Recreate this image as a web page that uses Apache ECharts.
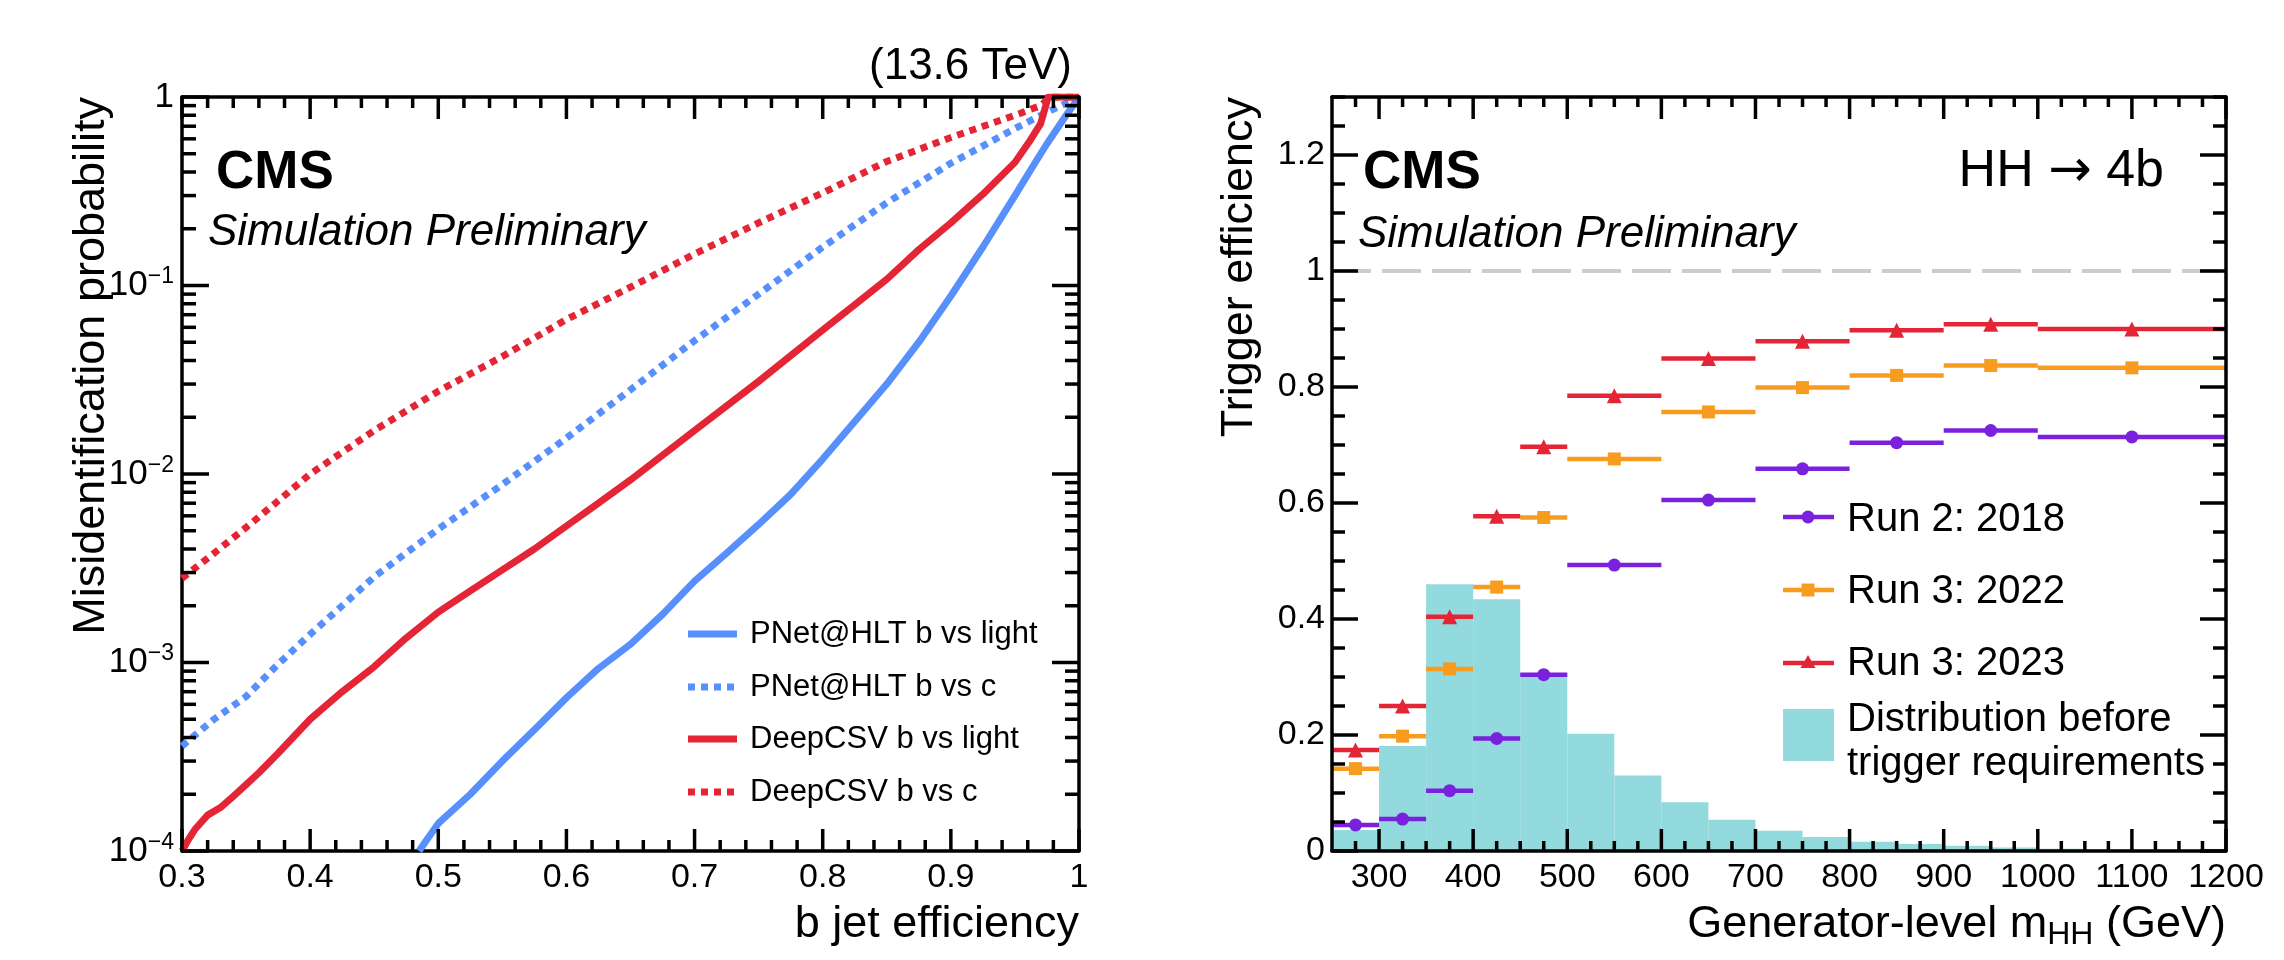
<!DOCTYPE html>
<html>
<head>
<meta charset="utf-8">
<script src="https://cdn.jsdelivr.net/npm/echarts@6.0.0/dist/echarts.min.js"></script>
<style>
  html, body { margin: 0; padding: 0; background: #ffffff; }
  #chart { width: 2284px; height: 960px; }
</style>
</head>
<body>
<div id="chart"></div>
<script>
// ---- left panel: ROC curves (b jet efficiency vs misidentification) ----
const pnetLightEff = [0.485, 0.49, 0.5, 0.525, 0.55, 0.575, 0.6, 0.625, 0.65, 0.675, 0.7, 0.725, 0.75, 0.775, 0.8, 0.825, 0.85, 0.875, 0.9, 0.925, 0.95, 0.965, 0.975, 0.99, 1.0];
const pnetLightMis = [1.0e-4, 1.12e-4, 1.4e-4, 2.0e-4, 3.0e-4, 4.4e-4, 6.5e-4, 9.3e-4, 1.25e-3, 1.8e-3, 2.7e-3, 3.8e-3, 5.4e-3, 7.8e-3, 1.2e-2, 1.9e-2, 3.0e-2, 5.0e-2, 8.8e-2, 0.16, 0.30, 0.44, 0.565, 0.80, 1.0];

const pnetCEff = [0.3, 0.325, 0.35, 0.375, 0.4, 0.425, 0.45, 0.5, 0.55, 0.6, 0.65, 0.7, 0.75, 0.8, 0.85, 0.9, 0.95, 0.975, 1.0];
const pnetCMis = [3.6e-4, 5.0e-4, 6.6e-4, 9.8e-4, 1.41e-3, 2.0e-3, 2.85e-3, 5.1e-3, 8.8e-3, 1.55e-2, 2.8e-2, 5.1e-2, 9.0e-2, 0.16, 0.275, 0.445, 0.68, 0.83, 1.0];

const deepLightEff = [0.3, 0.305, 0.31, 0.32, 0.33, 0.34, 0.35, 0.36, 0.375, 0.4, 0.425, 0.45, 0.475, 0.5, 0.525, 0.55, 0.575, 0.6, 0.625, 0.65, 0.7, 0.75, 0.8, 0.825, 0.85, 0.875, 0.9, 0.925, 0.95, 0.962, 0.97, 0.976, 1.0];
const deepLightMis = [1.0e-4, 1.15e-4, 1.3e-4, 1.55e-4, 1.7e-4, 1.95e-4, 2.25e-4, 2.6e-4, 3.3e-4, 5.0e-4, 7.0e-4, 9.5e-4, 1.35e-3, 1.85e-3, 2.4e-3, 3.1e-3, 4.0e-3, 5.3e-3, 7.0e-3, 9.3e-3, 1.7e-2, 3.1e-2, 5.8e-2, 7.9e-2, 0.108, 0.155, 0.215, 0.305, 0.45, 0.59, 0.72, 1.0, 1.0];

const deepCEff = [0.3, 0.325, 0.35, 0.375, 0.4, 0.45, 0.5, 0.55, 0.6, 0.65, 0.7, 0.75, 0.8, 0.85, 0.9, 0.95, 0.97, 0.978, 1.0];
const deepCMis = [2.8e-3, 3.8e-3, 5.2e-3, 7.2e-3, 1.0e-2, 1.7e-2, 2.75e-2, 4.2e-2, 6.6e-2, 9.8e-2, 0.147, 0.215, 0.31, 0.455, 0.61, 0.80, 0.90, 1.0, 1.0];

const rocNames = ['PNet@HLT b vs light', 'PNet@HLT b vs c', 'DeepCSV b vs light', 'DeepCSV b vs c'];

// ---- right panel: trigger efficiency vs generator-level mHH ----
const binLo = [250, 300, 350, 400, 450, 500, 600, 700, 800, 900, 1000];
const binHi = [300, 350, 400, 450, 500, 600, 700, 800, 900, 1000, 1200];
const eff2018 = [0.045, 0.055, 0.104, 0.194, 0.304, 0.493, 0.605, 0.659, 0.704, 0.725, 0.714];
const eff2022 = [0.142, 0.198, 0.314, 0.455, 0.575, 0.676, 0.757, 0.799, 0.820, 0.837, 0.833];
const eff2023 = [0.174, 0.250, 0.404, 0.577, 0.697, 0.785, 0.849, 0.879, 0.898, 0.908, 0.900];

const histEdges = [250, 300, 350, 400, 450, 500, 550, 600, 650, 700, 750, 800, 850, 900, 950, 1000, 1050, 1100, 1150, 1200];
const histVals = [0.036, 0.181, 0.460, 0.434, 0.307, 0.202, 0.130, 0.084, 0.054, 0.035, 0.024, 0.016, 0.012, 0.009, 0.006, 0.004, 0.003, 0.002, 0.0015];

const runNames = ['Run 2: 2018', 'Run 3: 2022', 'Run 3: 2023'];

// tick labels
const xTicksLeft = [0.3, 0.4, 0.5, 0.6, 0.7, 0.8, 0.9, 1.0];
const yTicksLeft = [1e-4, 1e-3, 1e-2, 1e-1, 1];
const xTicksRight = [300, 400, 500, 600, 700, 800, 900, 1000, 1100, 1200];
const yTicksRight = [0, 0.2, 0.4, 0.6, 0.8, 1.0, 1.2];

const BLUE = '#5790fc', RED = '#e42536', ORANGE = '#f89c20', PURPLE = '#7a21dd', CYAN = '#92dadd';
const FONT = '"Liberation Sans", Arial, Helvetica, sans-serif';

// ROOT-style inward ticks on all four sides: [value, length]
let leftXTicks = [], leftYTicks = [], rightXTicks = [], rightYTicks = [];
for (let i = 0; i <= 35; i++) leftXTicks.push([+(0.3 + i * 0.02).toFixed(2), i % 5 === 0 ? 22 : 11]);
yTicksLeft.forEach(v => leftYTicks.push([v, 27]));
for (let d = -4; d < 0; d++) for (let k = 2; k <= 9; k++) leftYTicks.push([k * Math.pow(10, d), 14]);
for (let v = 275; v <= 1200; v += 25) rightXTicks.push([v, v % 100 === 0 ? 22 : 10]);
for (let i = 0; i <= 26; i++) rightYTicks.push([+(i * 0.05).toFixed(2), i % 4 === 0 ? 26 : 13]);

const labelStyle = { color: '#000', fontSize: 34, fontFamily: FONT };

function frameLine() { return { show: true, onZero: false, lineStyle: { color: '#000', width: 3.5 } }; }
function noTick() { return { show: false }; }
function hiddenLabel() { return { show: false }; }

let chart = echarts.init(document.getElementById('chart'), null, { renderer: 'canvas' });

let xAxes = [
  { gridIndex: 0, type: 'value', min: 0.3, max: 1, position: 'bottom',
    axisLine: frameLine(), axisTick: noTick(),
    axisLabel: Object.assign({ show: true, margin: 10, customValues: xTicksLeft, formatter: v => String(+v.toFixed(1)) }, labelStyle),
    splitLine: { show: false } },
  { gridIndex: 0, type: 'value', min: 0.3, max: 1, position: 'top',
    axisLine: frameLine(), axisTick: noTick(), axisLabel: hiddenLabel(), splitLine: { show: false } },
  { gridIndex: 1, type: 'value', min: 250, max: 1200, position: 'bottom', z: 5,
    axisLine: frameLine(), axisTick: noTick(),
    axisLabel: Object.assign({ show: true, margin: 10, customValues: xTicksRight, formatter: v => String(v) }, labelStyle),
    splitLine: { show: false } },
  { gridIndex: 1, type: 'value', min: 250, max: 1200, position: 'top', z: 5,
    axisLine: frameLine(), axisTick: noTick(), axisLabel: hiddenLabel(), splitLine: { show: false } }
];

function logLabel(v) {
  if (v >= 0.999) return '{b|1}';
  const e = Math.round(Math.log10(v));
  return '{b|10}{s|\u2212' + (-e) + '}';
}

let yAxes = [
  { gridIndex: 0, type: 'log', logBase: 10, min: 1e-4, max: 1, position: 'left',
    axisLine: frameLine(), axisTick: noTick(),
    axisLabel: { show: true, margin: 8, formatter: logLabel, showMinLabel: true, showMaxLabel: true,
      rich: { b: { fontSize: 35, fontFamily: FONT, color: '#000', lineHeight: 40 },
              s: { fontSize: 23, fontFamily: FONT, color: '#000', verticalAlign: 'top', lineHeight: 22 } } },
    splitLine: { show: false } },
  { gridIndex: 0, type: 'log', logBase: 10, min: 1e-4, max: 1, position: 'right',
    axisLine: frameLine(), axisTick: noTick(), axisLabel: hiddenLabel(), splitLine: { show: false } },
  { gridIndex: 1, type: 'value', min: 0, max: 1.3, position: 'left', z: 5,
    axisLine: frameLine(), axisTick: noTick(),
    axisLabel: Object.assign({ show: true, margin: 7, customValues: yTicksRight }, labelStyle),
    splitLine: { show: false } },
  { gridIndex: 1, type: 'value', min: 0, max: 1.3, position: 'right', z: 5,
    axisLine: frameLine(), axisTick: noTick(), axisLabel: hiddenLabel(), splitLine: { show: false } }
];

function zip(a, b) { return a.map((v, i) => [v, b[i]]); }

function rocSeries(name, xs, ys, color, dotted) {
  return {
    name: name, type: 'line', xAxisIndex: 0, yAxisIndex: 0, z: 3,
    data: zip(xs, ys), showSymbol: false, symbol: 'none', smooth: false,
    lineStyle: { color: color, width: 7, type: dotted ? [7, 6] : 'solid', cap: 'butt', join: 'round' }
  };
}

function errSeries(name, vals, color) {
  return {
    name: name, type: 'custom', xAxisIndex: 2, yAxisIndex: 2, z: 4,
    data: binLo.map((lo, i) => [lo, binHi[i], vals[i]]),
    encode: { x: [0, 1], y: 2 },
    renderItem: function (params, api) {
      const a = api.coord([api.value(0), api.value(2)]);
      const b = api.coord([api.value(1), api.value(2)]);
      return { type: 'line', shape: { x1: a[0], y1: a[1], x2: b[0], y2: b[1] },
               style: { stroke: color, lineWidth: 4.5 } };
    }
  };
}

function markerSeries(name, vals, color, symbol, size) {
  return {
    name: name, type: 'scatter', xAxisIndex: 2, yAxisIndex: 2, z: 5,
    data: binLo.map((lo, i) => [(lo + binHi[i]) / 2, vals[i]]),
    symbol: symbol, symbolSize: size,
    itemStyle: { color: color, opacity: 1 }
  };
}

let series = [
  rocSeries(rocNames[0], pnetLightEff, pnetLightMis, BLUE, false),
  rocSeries(rocNames[1], pnetCEff, pnetCMis, BLUE, true),
  rocSeries(rocNames[2], deepLightEff, deepLightMis, RED, false),
  rocSeries(rocNames[3], deepCEff, deepCMis, RED, true),
  {
    name: 'Distribution before trigger requirements', type: 'custom', xAxisIndex: 2, yAxisIndex: 2, z: 1,
    data: histVals.map((h, i) => [histEdges[i], histEdges[i + 1], h]),
    encode: { x: [0, 1], y: 2 },
    renderItem: function (params, api) {
      const a = api.coord([api.value(0), api.value(2)]);
      const b = api.coord([api.value(1), 0]);
      return { type: 'rect', shape: { x: a[0], y: a[1], width: b[0] - a[0], height: b[1] - a[1] },
               style: { fill: CYAN } };
    }
  },
  {
    name: 'unity', type: 'line', xAxisIndex: 2, yAxisIndex: 2, z: 2, symbol: 'none',
    data: [[250, 1], [1200, 1]],
    lineStyle: { color: '#cccccc', width: 4, type: [39, 11] }
  },
  errSeries(runNames[0], eff2018, PURPLE),
  errSeries(runNames[1], eff2022, ORANGE),
  errSeries(runNames[2], eff2023, RED),
  markerSeries(runNames[0], eff2018, PURPLE, 'circle', 13),
  markerSeries(runNames[1], eff2022, ORANGE, 'rect', 13),
  markerSeries(runNames[2], eff2023, RED, 'triangle', 15)
];

function txt(x, y, text, size, opts) {
  opts = opts || {};
  return {
    type: 'text', x: x, y: y, rotation: opts.rotation || 0, z: 10,
    style: {
      text: text, fill: '#000', fontSize: size, fontFamily: FONT,
      fontWeight: opts.weight || 'normal', fontStyle: opts.style || 'normal',
      align: opts.align || 'left', verticalAlign: 'middle', rich: opts.rich
    }
  };
}

function segment(x1, y1, x2, y2, color, width, dash) {
  return { type: 'line', z: 10, silent: true, shape: { x1: x1, y1: y1, x2: x2, y2: y2 },
           style: { stroke: color, lineWidth: width, lineDash: dash || null } };
}
function legLine(x1, x2, y, color, width, dash) { return segment(x1, y, x2, y, color, width, dash); }

let graphics = [
  // left panel labels
  txt(216, 173, 'CMS', 53, { weight: 'bold' }),
  txt(208, 233, 'Simulation Preliminary', 44, { style: 'italic' }),
  txt(1072, 67, '(13.6 TeV)', 44, { align: 'right' }),
  txt(92, 97, 'Misidentification probability', 45, { align: 'right', rotation: Math.PI / 2 }),
  txt(1079, 925, 'b jet efficiency', 45, { align: 'right' }),
  // left legend
  legLine(688, 737, 634, BLUE, 7), txt(750, 634, rocNames[0], 31),
  legLine(688, 737, 687, BLUE, 7, [7, 6]), txt(750, 687, rocNames[1], 31),
  legLine(688, 737, 739, RED, 7), txt(750, 739, rocNames[2], 31),
  legLine(688, 737, 792, RED, 7, [7, 6]), txt(750, 792, rocNames[3], 31),
  // right panel labels
  txt(1363, 173, 'CMS', 53, { weight: 'bold' }),
  txt(1358, 235, 'Simulation Preliminary', 44, { style: 'italic' }),
  txt(2164, 172, 'HH {a|\u2192} 4b', 52, { align: 'right',
    rich: { a: { fontSize: 52, fontFamily: '"DejaVu Sans", sans-serif', fill: '#000' } } }),
  txt(1240, 97, 'Trigger efficiency', 45, { align: 'right', rotation: Math.PI / 2 }),
  txt(2226, 925, 'Generator-level m{sub|HH} (GeV)', 45, { align: 'right',
    rich: { sub: { fontSize: 32, fontFamily: FONT, fill: '#000', verticalAlign: 'bottom', padding: [20, 0, 0, 0] } } }),
  // right legend
  legLine(1783, 1834, 517, PURPLE, 4.5),
  { type: 'circle', z: 10, shape: { cx: 1808, cy: 517, r: 6.5 }, style: { fill: PURPLE } },
  txt(1847, 520, runNames[0], 40),
  legLine(1783, 1834, 590, ORANGE, 4.5),
  { type: 'rect', z: 10, shape: { x: 1801.5, y: 583.5, width: 13, height: 13 }, style: { fill: ORANGE } },
  txt(1847, 592, runNames[1], 40),
  legLine(1783, 1834, 663, RED, 4.5),
  { type: 'polygon', z: 10, shape: { points: [[1808, 655], [1815.5, 668], [1800.5, 668]] }, style: { fill: RED } },
  txt(1847, 664, runNames[2], 40),
  { type: 'rect', z: 10, shape: { x: 1783, y: 709, width: 51, height: 52 }, style: { fill: CYAN } },
  txt(1847, 720, 'Distribution before', 40),
  txt(1847, 764, 'trigger requirements', 40)
];

let option = {
  backgroundColor: '#ffffff',
  animation: false,
  grid: [
    { left: 182, top: 97, width: 897, height: 754, outerBoundsMode: 'none', containLabel: false },
    { left: 1332, top: 97, width: 894, height: 754, outerBoundsMode: 'none', containLabel: false }
  ],
  xAxis: xAxes,
  yAxis: yAxes,
  series: series
};

chart.setOption(option);

// inward ticks on all four frame sides, placed with the axes' own scales
function frameTicks(finder, xExt, yExt, xTicks, yTicks) {
  let els = [];
  xTicks.forEach(t => {
    const b = chart.convertToPixel(finder, [t[0], yExt[0]]);
    const u = chart.convertToPixel(finder, [t[0], yExt[1]]);
    els.push(segment(b[0], b[1], b[0], b[1] - t[1], '#000', 3.5));
    els.push(segment(u[0], u[1], u[0], u[1] + t[1], '#000', 3.5));
  });
  yTicks.forEach(t => {
    const l = chart.convertToPixel(finder, [xExt[0], t[0]]);
    const r = chart.convertToPixel(finder, [xExt[1], t[0]]);
    els.push(segment(l[0], l[1], l[0] + t[1], l[1], '#000', 3.5));
    els.push(segment(r[0], r[1], r[0] - t[1], r[1], '#000', 3.5));
  });
  return els;
}

let tickEls = [];
try {
  tickEls = frameTicks({ xAxisIndex: 0, yAxisIndex: 0 }, [0.3, 1], [1e-4, 1], leftXTicks, leftYTicks)
    .concat(frameTicks({ xAxisIndex: 2, yAxisIndex: 2 }, [250, 1200], [0, 1.3], rightXTicks, rightYTicks));
} catch (e) {
  tickEls = [];
}

chart.setOption({ graphic: graphics.concat(tickEls) });
</script>
</body>
</html>
